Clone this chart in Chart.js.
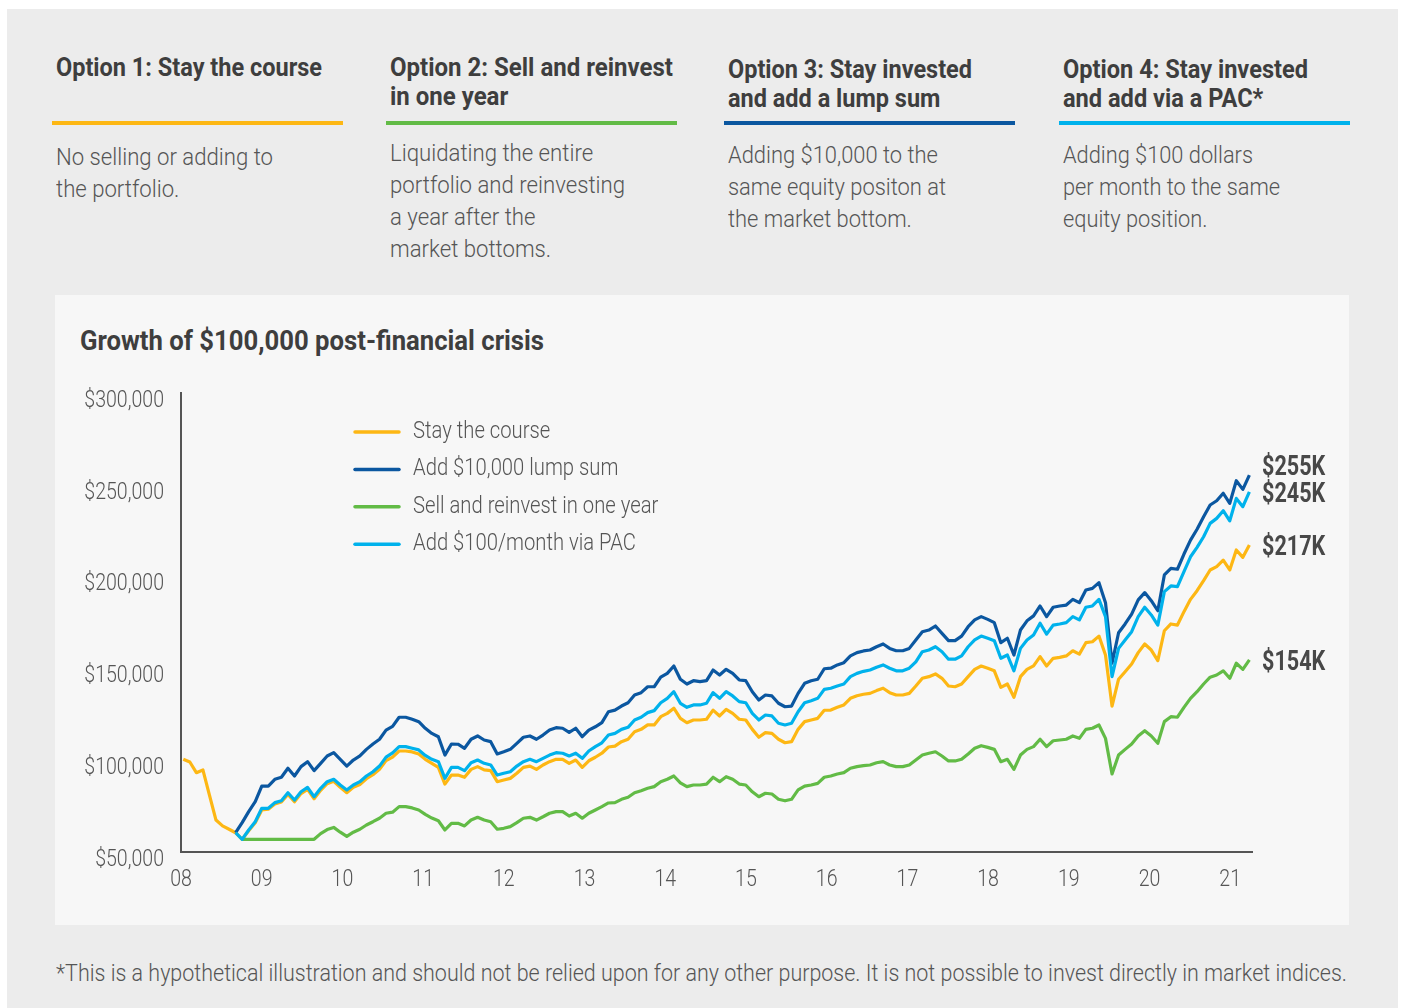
<!DOCTYPE html>
<html>
<head>
<meta charset="utf-8">
<script src="https://cdn.jsdelivr.net/npm/chart.js@4.4.1/dist/chart.umd.min.js"></script>
<style>
  html, body { margin: 0; padding: 0; background: #fff; }
  body {
    width: 1402px; height: 1008px; position: relative; overflow: hidden;
    font-family: Roboto, "Liberation Sans", sans-serif;
    color: #555;
  }
  .panel { position: absolute; left: 7px; top: 9px; width: 1391px; height: 999px; background: #ececec; }
  .fit { transform-origin: left top; }
  .opt-title { position: absolute; top: 53px; font-size: 26px; line-height: 29px; font-weight: bold; color: #3e3e3e; white-space: nowrap; }
  .opt-bar { position: absolute; top: 121px; width: 291px; height: 4px; }
  .opt-desc { position: absolute; font-size: 24px; line-height: 32px; color: #555; white-space: nowrap; font-weight: 300; }
  .chart-box { position: absolute; left: 55px; top: 295px; width: 1294px; height: 630px; background: #f7f7f7; }
  .chart-title { position: absolute; left: 80px; top: 324px; font-size: 28px; line-height: 34px; font-weight: bold; color: #3e3e3e; white-space: nowrap; }
  #growthChart { position: absolute; left: 55px; top: 295px; }
  .footnote { position: absolute; left: 56px; top: 958px; font-size: 24px; line-height: 30px; color: #555; white-space: nowrap; font-weight: 300; }
</style>
</head>
<body>
<div class="panel"></div>

<div class="opt-title fit" data-w="266" style="left:56px">Option 1: Stay the course</div>
<div class="opt-title fit" data-w="283" style="left:390px">Option 2: Sell and reinvest<br>in one year</div>
<div class="opt-title fit" data-w="244" style="left:728px;top:55px">Option 3: Stay invested<br>and add a lump sum</div>
<div class="opt-title fit" data-w="245" style="left:1063px;top:55px">Option 4: Stay invested<br>and add via a PAC*</div>

<div class="opt-bar" style="left:52px;background:#fdb714"></div>
<div class="opt-bar" style="left:386px;background:#62bb46"></div>
<div class="opt-bar" style="left:724px;background:#0b57a0"></div>
<div class="opt-bar" style="left:1059px;background:#00b2ec"></div>

<div class="opt-desc fit" data-w="217" style="left:56px;top:141px">No selling or adding to<br>the portfolio.</div>
<div class="opt-desc fit" data-w="235" style="left:390px;top:137px">Liquidating the entire<br>portfolio and reinvesting<br>a year after the<br>market bottoms.</div>
<div class="opt-desc fit" data-w="218" style="left:728px;top:139px">Adding $10,000 to the<br>same equity positon at<br>the market bottom.</div>
<div class="opt-desc fit" data-w="217" style="left:1063px;top:139px">Adding $100 dollars<br>per month to the same<br>equity position.</div>

<div class="chart-box"></div>
<div class="chart-title fit" data-w="464">Growth of $100,000 post-financial crisis</div>
<canvas id="growthChart" width="1294" height="630"></canvas>

<div class="footnote fit" data-w="1291">*This is a hypothetical illustration and should not be relied upon for any other purpose. It is not possible to invest directly in market indices.</div>

<script>
// monthly portfolio values, in $ thousands (first point = month 0)
const stayValues = [
  100.5, 99.0, 93.2, 94.7, 81.0, 67.4, 64.2, 62.4, 60.5, 56.9,
  61.6, 65.9, 72.9, 73.3, 76.2, 77.3, 81.4, 77.4, 81.8, 84.1,
  79.0, 83.6, 87.2, 88.5, 85.2, 82.3, 85.2, 86.8, 89.9, 92.1,
  95.0, 99.8, 101.7, 105.0, 105.0, 104.5, 103.4, 100.5, 98.3, 96.1,
  87.0, 91.9, 91.9, 90.7, 95.0, 96.5, 94.7, 94.3, 88.3, 89.2,
  90.1, 92.9, 96.1, 96.8, 95.0, 97.4, 99.2, 100.5, 100.5, 98.3,
  100.1, 96.1, 99.7, 101.6, 103.8, 107.2, 107.7, 110.1, 111.4, 115.5,
  116.8, 119.2, 119.2, 123.7, 125.5, 128.3, 122.8, 120.4, 121.9, 121.9,
  122.3, 127.3, 124.1, 127.7, 125.5, 122.3, 121.9, 116.8, 112.5, 115.0,
  114.6, 111.4, 109.5, 110.1, 116.8, 121.0, 121.9, 122.8, 127.2, 127.3,
  128.8, 130.1, 133.7, 135.1, 135.9, 136.4, 137.9, 139.2, 136.8, 135.5,
  135.5, 136.4, 140.4, 144.6, 145.5, 147.0, 144.6, 140.4, 140.0, 141.5,
  145.5, 149.5, 151.3, 150.1, 148.7, 139.7, 141.5, 134.3, 145.5, 149.5,
  151.4, 156.4, 151.3, 155.5, 156.0, 156.8, 159.6, 157.8, 164.0, 164.5,
  167.6, 157.3, 129.5, 144.1, 148.2, 152.4, 158.6, 163.3, 160.0, 154.2,
  170.5, 174.2, 173.6, 180.9, 187.6, 192.3, 197.8, 203.6, 205.4, 209.0,
  203.6, 214.5, 210.5, 217.2
];

const lumpValues = [
  null, null, null, null, null, null, null, null, 60.5, 66.0,
  72.0, 77.4, 85.9, 85.9, 89.6, 90.7, 95.6, 91.4, 96.5, 99.2,
  94.3, 98.3, 102.3, 104.1, 100.5, 96.8, 100.1, 102.3, 105.9, 108.8,
  111.4, 116.4, 118.4, 123.4, 123.4, 122.3, 121.0, 117.4, 114.6, 112.8,
  102.8, 108.8, 108.7, 106.5, 111.4, 113.2, 111.0, 110.1, 103.4, 104.6,
  105.9, 109.2, 112.5, 113.2, 111.4, 113.7, 116.4, 117.7, 117.4, 115.2,
  117.4, 112.8, 116.4, 118.2, 120.5, 126.4, 127.3, 129.5, 131.3, 135.5,
  136.8, 140.0, 140.0, 145.2, 147.3, 151.3, 144.1, 141.5, 143.3, 142.8,
  143.3, 149.1, 146.4, 149.5, 147.3, 143.7, 143.3, 137.3, 132.8, 135.5,
  135.0, 131.0, 129.1, 129.5, 136.4, 141.9, 143.3, 144.1, 149.8, 150.1,
  151.9, 153.1, 156.8, 158.6, 159.5, 160.0, 161.8, 163.3, 160.9, 159.6,
  159.6, 160.9, 165.5, 170.0, 170.9, 173.1, 169.1, 165.1, 165.1, 167.6,
  172.7, 176.4, 178.2, 176.7, 174.9, 164.0, 166.4, 157.3, 170.9, 175.9,
  178.6, 184.0, 178.2, 183.3, 184.0, 184.5, 187.6, 185.8, 192.7, 193.6,
  196.7, 185.8, 152.8, 169.4, 174.2, 179.6, 187.3, 191.3, 186.9, 181.4,
  200.9, 204.5, 204.0, 212.3, 219.9, 225.8, 232.6, 239.0, 241.3, 245.4,
  239.9, 252.2, 247.5, 255.3
];

const sellValues = [
  null, null, null, null, null, null, null, null, null, 56.9,
  56.9, 56.9, 56.9, 56.9, 56.9, 56.9, 56.9, 56.9, 56.9, 56.9,
  56.9, 60.0, 62.2, 63.4, 60.8, 58.5, 60.8, 62.4, 64.7, 66.5,
  68.4, 71.1, 71.7, 74.7, 74.7, 74.0, 72.9, 70.5, 68.5, 67.0,
  62.0, 65.6, 65.6, 64.2, 67.4, 68.9, 67.4, 66.5, 62.4, 62.9,
  63.8, 66.0, 68.4, 68.9, 67.4, 69.2, 71.1, 72.0, 72.0, 69.6,
  71.1, 68.4, 71.1, 72.9, 74.7, 76.7, 76.9, 78.7, 79.8, 82.3,
  83.4, 84.7, 85.6, 88.3, 89.6, 91.4, 87.7, 85.6, 86.5, 86.5,
  87.0, 90.7, 88.3, 91.0, 89.6, 87.0, 86.5, 82.8, 80.1, 82.0,
  81.6, 78.7, 77.9, 78.7, 83.8, 85.9, 86.5, 87.4, 90.7, 91.4,
  92.5, 93.2, 95.6, 96.5, 97.0, 97.4, 98.6, 99.2, 97.4, 96.5,
  96.5, 97.4, 100.1, 102.8, 103.8, 104.6, 102.3, 99.6, 99.6, 100.5,
  103.4, 106.5, 107.9, 107.0, 105.9, 99.2, 100.5, 95.0, 102.8, 105.9,
  107.4, 111.4, 107.4, 110.6, 111.0, 111.4, 113.2, 111.9, 116.8, 117.4,
  119.2, 111.9, 92.5, 102.8, 105.9, 108.8, 113.2, 116.1, 113.2, 109.2,
  121.0, 123.7, 123.4, 128.8, 133.7, 137.3, 141.5, 145.2, 146.4, 148.7,
  144.6, 152.8, 149.5, 154.6
];

const pacValues = [
  null, null, null, null, null, null, null, null, 60.5, 56.9,
  62.0, 66.5, 73.8, 73.8, 76.9, 77.9, 82.3, 78.3, 82.8, 85.2,
  80.1, 84.7, 88.3, 89.6, 86.5, 83.8, 86.5, 88.3, 91.4, 93.7,
  96.8, 101.7, 104.0, 107.4, 107.4, 106.5, 105.6, 102.6, 100.5, 99.2,
  90.1, 96.1, 96.1, 94.3, 98.6, 100.1, 98.3, 97.4, 91.9, 92.9,
  93.7, 96.8, 99.2, 100.5, 99.2, 101.0, 102.8, 104.1, 103.8, 102.3,
  103.8, 101.0, 105.0, 107.4, 109.5, 113.7, 114.6, 116.8, 117.9, 121.9,
  123.4, 125.9, 127.0, 131.3, 133.7, 137.3, 131.0, 128.8, 130.1, 130.1,
  131.0, 136.8, 133.7, 137.3, 135.0, 131.9, 131.3, 125.5, 121.9, 124.6,
  124.1, 120.1, 119.2, 120.1, 126.4, 131.3, 132.4, 133.7, 138.6, 139.2,
  140.4, 141.5, 145.5, 147.3, 148.4, 149.1, 150.6, 151.9, 150.1, 148.7,
  148.7, 150.1, 153.6, 159.1, 160.0, 161.8, 159.1, 155.0, 155.0, 156.8,
  161.8, 165.5, 167.6, 166.4, 165.1, 155.5, 157.3, 148.7, 160.9, 165.5,
  168.2, 174.6, 168.7, 173.6, 174.2, 174.9, 178.2, 176.4, 183.3, 184.0,
  187.6, 178.2, 145.5, 160.9, 165.5, 170.0, 178.2, 183.3, 179.1, 173.6,
  191.8, 194.9, 194.5, 202.7, 210.8, 215.9, 221.7, 229.0, 231.7, 235.9,
  230.4, 242.6, 238.1, 246.2
];

const seriesNames = ['Stay the course', 'Add $10,000 lump sum', 'Sell and reinvest in one year', 'Add $100/month via PAC'];
const endLabels = ['$217K', '$255K', '$154K', '$245K'];
const yearLabels = ['08', '09', '10', '11', '12', '13', '14', '15', '16', '17', '18', '19', '20', '21'];
const yTickLabels = ['$50,000', '$100,000', '$150,000', '$200,000', '$250,000', '$300,000'];

const COLORS = ['#fdb714', '#0b57a0', '#62bb46', '#00b2ec'];
const FONT = 'Roboto, "Liberation Sans", sans-serif';
const TEXT = '#555';

// squeeze the HTML text blocks to the widths of the original (condensed face)
document.querySelectorAll('.fit').forEach(el => {
  const w = el.getBoundingClientRect().width;
  el.style.transform = 'scaleX(' + (el.dataset.w / w) + ')';
});

function toPoints(values) {
  return values.map((v, i) => ({ x: i, y: v }));
}

function condensedText(ctx, text, x, y, align, squeeze) {
  ctx.save();
  ctx.translate(x, y);
  ctx.scale(squeeze, 1);
  ctx.textAlign = align;
  ctx.fillText(text, 0, 0);
  ctx.restore();
}

const allSeries = [stayValues, lumpValues, sellValues, pacValues];

// draw order: PAC on top, then lump sum, sell, stay
const drawOrder = [3, 1, 2, 0];

// tick labels in the condensed style
const axisLabels = {
  id: 'axisLabels',
  afterDraw(chart) {
    const { ctx, chartArea, scales } = chart;
    ctx.save();
    ctx.font = '300 23px ' + FONT;
    ctx.fillStyle = TEXT;
    ctx.textBaseline = 'middle';
    scales.y.ticks.forEach((t, i) => {
      condensedText(ctx, yTickLabels[i], chartArea.left - 17, scales.y.getPixelForValue(t.value) + 8, 'right', 0.85);
    });
    yearLabels.forEach((lab, i) => {
      condensedText(ctx, lab, scales.years.getPixelForValue(i), chartArea.bottom + 28, 'center', 0.85);
    });
    ctx.restore();
  }
};

// legend inside the plot, upper left
const insideLegend = {
  id: 'insideLegend',
  afterDatasetsDraw(chart) {
    const { ctx, chartArea } = chart;
    const x0 = chartArea.left + 174;
    const y0 = chartArea.top + 39;
    ctx.save();
    ctx.font = '300 23px ' + FONT;
    ctx.textBaseline = 'middle';
    seriesNames.forEach((name, i) => {
      const y = y0 + i * 37.4;
      ctx.strokeStyle = COLORS[i];
      ctx.lineWidth = 3.5;
      ctx.lineCap = 'round';
      ctx.beginPath();
      ctx.moveTo(x0, y);
      ctx.lineTo(x0 + 44, y);
      ctx.stroke();
      ctx.fillStyle = TEXT;
      condensedText(ctx, name, x0 + 58, y, 'left', 0.88);
    });
    ctx.restore();
  }
};

// end-of-line value labels, nudged apart when they would overlap
const endValueLabels = {
  id: 'endValueLabels',
  afterDatasetsDraw(chart) {
    const { ctx, chartArea, scales } = chart;
    const items = allSeries.map((vals, i) => ({
      text: endLabels[i],
      y: scales.y.getPixelForValue(vals[vals.length - 1])
    })).sort((a, b) => b.y - a.y);
    for (let k = 1; k < items.length; k++) {
      if (items[k - 1].y - items[k].y < 27) items[k].y = items[k - 1].y - 27;
    }
    ctx.save();
    ctx.font = 'bold 27px ' + FONT;
    ctx.fillStyle = '#484848';
    ctx.textBaseline = 'middle';
    items.forEach(it => condensedText(ctx, it.text, chartArea.right + 10, it.y + 3, 'left', 0.8));
    ctx.restore();
  }
};

const chart = new Chart(document.getElementById('growthChart'), {
  type: 'line',
  data: {
    datasets: drawOrder.map(i => ({
      label: seriesNames[i],
      data: toPoints(allSeries[i]),
      borderColor: COLORS[i],
      backgroundColor: COLORS[i],
      borderWidth: 3.2,
      pointRadius: 0,
      tension: 0,
      borderJoinStyle: 'round',
      spanGaps: false
    }))
  },
  options: {
    responsive: false,
    animation: false,
    devicePixelRatio: 1,
    layout: { padding: { top: 98, right: 97, left: 0, bottom: 33 } },
    plugins: { legend: { display: false }, tooltip: { enabled: false } },
    scales: {
      x: { type: 'linear', display: false, min: -0.35, max: 163.4 },
      years: {
        type: 'linear', axis: 'x', position: 'bottom',
        min: 0, max: 13.27,
        grid: { display: false, drawTicks: false },
        border: { display: true, color: '#555', width: 2 },
        ticks: { display: false },
        afterFit(scale) { scale.height = 40; }
      },
      y: {
        min: 50, max: 300,
        grid: { display: false, drawTicks: false },
        border: { display: true, color: '#555', width: 2 },
        ticks: { display: false, stepSize: 50 },
        afterFit(scale) { scale.width = 126; }
      }
    }
  },
  plugins: [axisLabels, insideLegend, endValueLabels]
});
</script>
</body>
</html>
